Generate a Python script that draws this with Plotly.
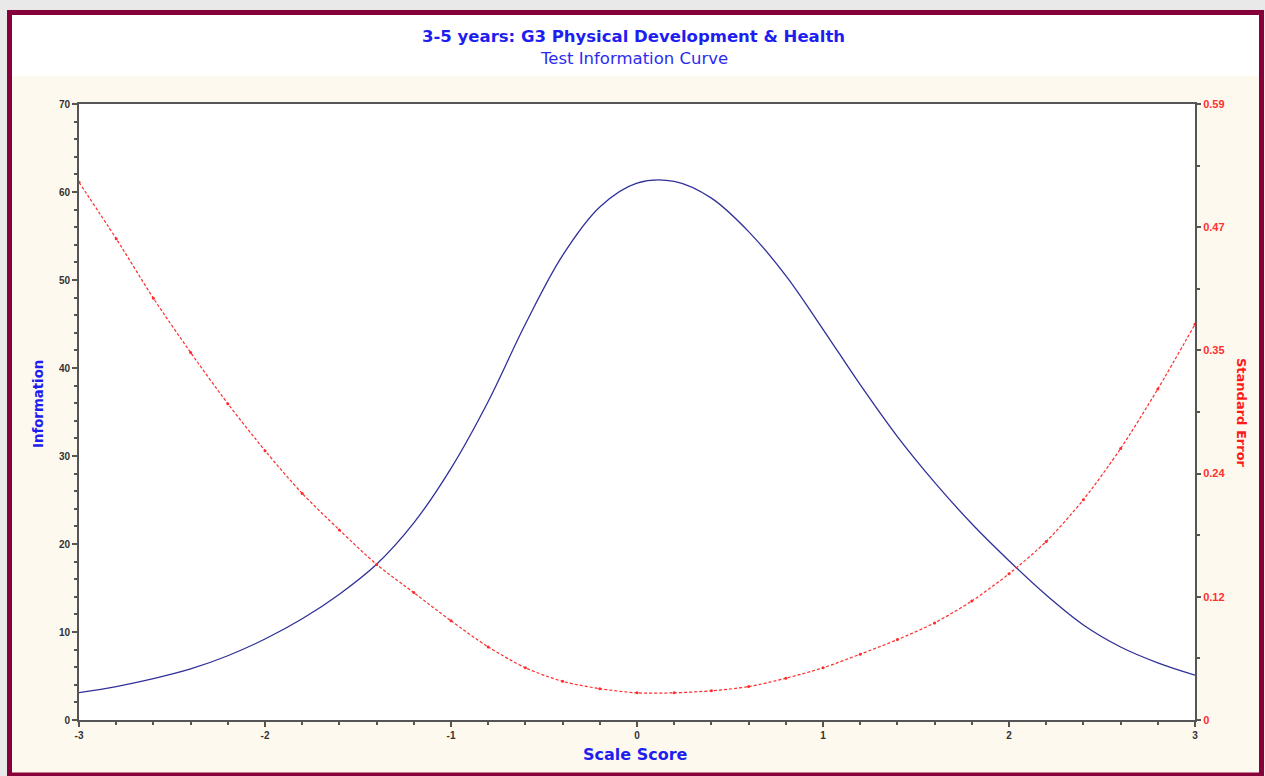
import plotly.graph_objects as go

# ---- data ----
theta = [-3.0, -2.8, -2.6, -2.4, -2.2, -2.0, -1.8, -1.6, -1.4, -1.2, -1.0,
         -0.8, -0.6, -0.4, -0.2, 0.0, 0.2, 0.4, 0.6, 0.8, 1.0,
         1.2, 1.4, 1.6, 1.8, 2.0, 2.2, 2.4, 2.6, 2.8, 3.0]
information = [3.1, 3.8, 4.7, 5.8, 7.3, 9.2, 11.5, 14.3, 17.7, 22.4, 28.6,
               36.2, 45.0, 52.8, 58.3, 61.0, 61.2, 59.3, 55.5, 50.5, 44.4,
               38.1, 32.2, 27.0, 22.3, 18.1, 14.2, 10.8, 8.3, 6.5, 5.1]

se_theta = [-3.0, -2.8, -2.6, -2.4, -2.2, -2.0, -1.8, -1.6, -1.4, -1.2, -1.0,
            -0.8, -0.6, -0.4, -0.2, 0.0, 0.2, 0.4, 0.6, 0.8, 1.0,
            1.2, 1.4, 1.6, 1.8, 2.0, 2.2, 2.4, 2.6, 2.8, 3.0]
std_error = [0.515, 0.461, 0.404, 0.352, 0.303, 0.258, 0.217, 0.182, 0.149, 0.122, 0.095,
             0.070, 0.050, 0.037, 0.030, 0.026, 0.026, 0.028, 0.032, 0.040, 0.050,
             0.063, 0.077, 0.093, 0.114, 0.140, 0.171, 0.211, 0.260, 0.317, 0.379]

x_ticks = [-3, -2, -1, 0, 1, 2, 3]
y_ticks = [0, 10, 20, 30, 40, 50, 60, 70]
se_ticks = [0, 0.118, 0.236, 0.354, 0.472, 0.59]
se_tick_labels = ["0", "0.12", "0.24", "0.35", "0.47", "0.59"]

title_main = "3-5 years: G3 Physical Development & Health"
title_sub = "Test Information Curve"

# ---- layout geometry ----
W, H = 1265, 776
L, R, T, B = 79, 1195, 104, 720


def px(xp):
    return (xp - L) / (R - L)


def py(yp):
    return (B - yp) / (B - T)


fig = go.Figure()
fig.add_trace(go.Scatter(
    x=theta, y=information, mode="lines",
    line=dict(color="#30309A", width=1.3, shape="spline", smoothing=1.0),
    name="Information", showlegend=False))
fig.add_trace(go.Scatter(
    x=se_theta, y=std_error, mode="lines+markers", yaxis="y2",
    line=dict(color="#FF2A2A", width=1.2, dash="3px,2px", shape="spline", smoothing=0.8),
    marker=dict(color="#FF2A2A", size=3), name="Standard Error", showlegend=False))

axis_line = "#555555"
tick_font = dict(family="Liberation Sans, Arial", size=10, color="#333333", weight="bold")

fig.update_layout(
    width=W, height=H,
    margin=dict(l=L, r=W - R, t=T, b=H - B, pad=0),
    paper_bgcolor="#e9e9e9",
    plot_bgcolor="rgba(0,0,0,0)",
    xaxis=dict(range=[-3, 3], tickvals=x_ticks, ticktext=[str(v) for v in x_ticks],
               showgrid=False, zeroline=False, showline=True, mirror=True,
               linecolor=axis_line, linewidth=2, ticks="outside", ticklen=5,
               tickcolor=axis_line, tickwidth=1.5, tickfont=tick_font,
               minor=dict(dtick=0.2, ticks="outside", ticklen=3, tickcolor=axis_line, showgrid=False)),
    yaxis=dict(range=[0, 70], tickvals=y_ticks, showgrid=False, zeroline=False,
               showline=True, linecolor=axis_line, linewidth=2, ticks="outside", ticklen=5,
               tickcolor=axis_line, tickwidth=1.5, tickfont=tick_font,
               minor=dict(dtick=2, ticks="outside", ticklen=3, tickcolor=axis_line, showgrid=False)),
    yaxis2=dict(range=[0, 0.59], overlaying="y", side="right", tickvals=se_ticks,
                ticktext=se_tick_labels, showgrid=False, zeroline=False,
                showline=True, linecolor=axis_line, linewidth=2, ticks="outside", ticklen=4,
                tickcolor=axis_line, tickwidth=1.5,
                tickfont=dict(family="Liberation Sans, Arial", size=11, color="#FF3030", weight="bold"),
                minor=dict(dtick=0.059, ticks="outside", ticklen=3, tickcolor=axis_line, showgrid=False)),
    shapes=[
        dict(type="rect", xref="paper", yref="paper", layer="below",
             x0=px(9.5), x1=px(1261.5), y0=py(12.5), y1=py(775),
             line=dict(color="#86003A", width=5), fillcolor="#FEF9EE"),
        dict(type="rect", xref="paper", yref="paper", layer="below",
             x0=px(12), x1=px(1259), y0=py(15), y1=py(76),
             line=dict(width=0), fillcolor="#FFFFFF"),
        dict(type="rect", xref="paper", yref="paper", layer="below",
             x0=0, x1=1, y0=0, y1=1, line=dict(width=0), fillcolor="#FFFFFF"),
    ],
    annotations=[
        dict(text=title_main, xref="paper", yref="paper", x=px(633), y=py(37),
             showarrow=False, xanchor="center", yanchor="middle",
             font=dict(family="DejaVu Sans, Verdana", size=16.5, color="#1E1EF0", weight="bold")),
        dict(text=title_sub, xref="paper", yref="paper", x=px(634), y=py(58),
             showarrow=False, xanchor="center", yanchor="middle",
             font=dict(family="DejaVu Sans, Verdana", size=16.5, color="#2B2BF0")),
        dict(text="Information", xref="paper", yref="paper", x=px(38), y=py(404),
             showarrow=False, textangle=-90, xanchor="center", yanchor="middle",
             font=dict(family="DejaVu Sans, Verdana", size=13.3, color="#1E1EF0", weight="bold")),
        dict(text="Scale Score", xref="paper", yref="paper", x=px(635), y=py(754),
             showarrow=False, xanchor="center", yanchor="middle",
             font=dict(family="DejaVu Sans, Verdana", size=16, color="#1E1EF0", weight="bold")),
        dict(text="Standard Error", xref="paper", yref="paper", x=px(1242), y=py(413),
             showarrow=False, textangle=90, xanchor="center", yanchor="middle",
             font=dict(family="DejaVu Sans, Verdana", size=13, color="#FF1A1A", weight="bold")),
    ],
)

fig.write_html("out.html", post_script="document.body.style.margin='0';",
               config={"displayModeBar": False})
